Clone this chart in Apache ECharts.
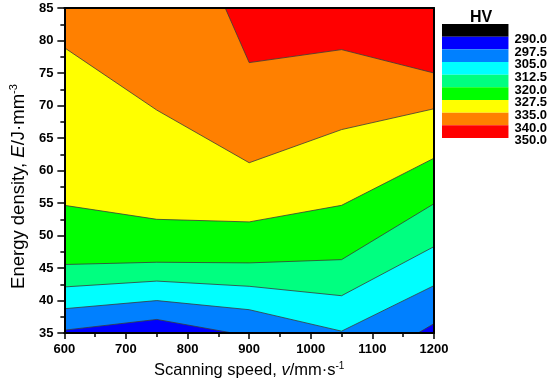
<!DOCTYPE html>
<html>
<head>
<meta charset="utf-8">
<script src="https://cdn.jsdelivr.net/npm/echarts@6/dist/echarts.min.js"></script>
<style>
html,body{margin:0;padding:0;background:#fff;}
#c{width:550px;height:384px;}
</style>
</head>
<body>
<div id="c"></div>
<script>
// Scanning speed columns (mm/s)
var speeds = [600, 750, 900, 1050, 1200];
// Contour boundary lines: energy density (J/mm^3) at each speed
var top85 = [85, 85, 85, 85, 85];
var b340 = [130, 109, 76.6, 78.6, 75.0];
var b335 = [78.9, 69.3, 61.2, 66.3, 69.5];
var b327 = [54.65, 52.5, 52.1, 54.65, 61.9];
var b320 = [45.55, 45.9, 45.8, 46.3, 54.9];
var b312 = [42.1, 43.0, 42.2, 40.75, 48.3];
var b305 = [38.75, 40.0, 38.6, 35.3, 42.3];
var b297 = [35.45, 37.1, 34.55, 28.1, 36.45];
// Colour-scale legend
var legendLevels = ['290.0', '297.5', '305.0', '312.5', '320.0', '327.5', '335.0', '340.0', '350.0'];
var legendColors = ['#000000', '#0000ff', '#0080ff', '#00ffff', '#00ff80', '#00ff00', '#ffff00', '#ff8000', '#ff0000'];
var xTicks = [600, 700, 800, 900, 1000, 1100, 1200];
var yTicks = [35, 40, 45, 50, 55, 60, 65, 70, 75, 80, 85];

var FONT = 'Liberation Sans, Arial, sans-serif';

function pts(arr) {
  return speeds.map(function (s, i) { return [s, arr[i]]; });
}

// layers drawn from top region down: each fills below its boundary
var layers = [
  { d: top85, fill: '#ff0000', line: false },
  { d: b340, fill: '#ff8000', line: true },
  { d: b335, fill: '#ffff00', line: true },
  { d: b327, fill: '#00ff00', line: true },
  { d: b320, fill: '#00ff80', line: true },
  { d: b312, fill: '#00ffff', line: true },
  { d: b305, fill: '#0080ff', line: true },
  { d: b297, fill: '#0000ff', line: true }
];

var series = layers.map(function (l) {
  return {
    type: 'line',
    xAxisIndex: 0, yAxisIndex: 0,
    data: pts(l.d),
    showSymbol: false,
    symbol: 'none',
    clip: true,
    silent: true,
    lineStyle: { color: '#3a3a3a', width: l.line ? 0.8 : 0, opacity: l.line ? 1 : 0 },
    areaStyle: { color: l.fill, opacity: 1, origin: 'start' },
    z: 2
  };
});

legendColors.forEach(function (c, i) {
  series.push({
    type: 'bar',
    xAxisIndex: 2, yAxisIndex: 2,
    stack: 'leg',
    data: [1],
    barWidth: '100%',
    itemStyle: { color: c },
    silent: true
  });
});

var axisLabelStyle = { color: '#000', fontSize: 13, fontWeight: 'bold', fontFamily: FONT };
function richName(sz) {
  return {
    n: { fontSize: sz, fontFamily: FONT, color: '#000', verticalAlign: 'bottom' },
    i: { fontSize: sz, fontFamily: FONT, fontStyle: 'italic', color: '#000', verticalAlign: 'bottom' },
    s: { fontSize: Math.round(sz * 0.62), fontFamily: FONT, color: '#000', verticalAlign: 'bottom', padding: [0, 0, Math.round(sz * 0.5), 0] }
  };
}

var option = {
  animation: false,
  backgroundColor: '#fff',
  grid: [
    { left: 58, right: 116, top: 8, bottom: 46 },
    { left: 442, top: 24, width: 70, height: 114 }
  ],
  title: {
    text: 'HV', left: 476, top: 5, textAlign: 'center',
    textStyle: { fontSize: 16, fontWeight: 'bold', fontFamily: FONT, color: '#000' }
  },
  xAxis: [
    {
      type: 'value', gridIndex: 0, min: xTicks[0], max: xTicks[xTicks.length - 1], interval: 100,
      position: 'bottom', z: 10,
      axisLine: { show: true, onZero: false, lineStyle: { color: '#000', width: 2 } },
      axisTick: { show: true, inside: false, length: 6, lineStyle: { color: '#000', width: 1.5 } },
      minorTick: { show: true, splitNumber: 2, length: 4, lineStyle: { color: '#000', width: 1.5 } },
      axisLabel: Object.assign({ margin: 10, formatter: function (v) { return String(v); } }, axisLabelStyle),
      splitLine: { show: false },
      name: '{n|Scanning speed, }{i|v}{n|/mm·s}{s|-1}',
      nameLocation: 'middle', nameGap: 24,
      nameTextStyle: { rich: richName(16.5) }
    },
    {
      type: 'value', gridIndex: 0, min: 600, max: 1200, position: 'top', z: 10,
      axisLine: { show: true, onZero: false, lineStyle: { color: '#000', width: 2 } },
      axisTick: { show: false }, axisLabel: { show: false }, splitLine: { show: false }
    },
    {
      type: 'category', gridIndex: 1, data: [''], show: false
    }
  ],
  yAxis: [
    {
      type: 'value', gridIndex: 0, min: yTicks[0], max: yTicks[yTicks.length - 1], interval: 5,
      position: 'left', z: 10,
      axisLine: { show: true, onZero: false, lineStyle: { color: '#000', width: 2 } },
      axisTick: { show: true, inside: false, length: 7, lineStyle: { color: '#000', width: 1.5 } },
      minorTick: { show: true, splitNumber: 2, length: 4, lineStyle: { color: '#000', width: 1.5 } },
      axisLabel: Object.assign({ margin: 11 }, axisLabelStyle),
      splitLine: { show: false },
      name: '{n|Energy density, }{i|E}{n|/J·mm}{s|-3}',
      nameLocation: 'middle', nameGap: 33, nameRotate: 90,
      nameTextStyle: { rich: richName(18.5), padding: [0, 32, 0, 0] }
    },
    {
      type: 'value', gridIndex: 0, min: 35, max: 85, position: 'right', z: 10,
      axisLine: { show: true, onZero: false, lineStyle: { color: '#000', width: 2 } },
      axisTick: { show: false }, axisLabel: { show: false }, splitLine: { show: false }
    },
    {
      type: 'value', gridIndex: 1, min: 0, max: legendColors.length, inverse: true,
      show: false
    },
    {
      type: 'category', gridIndex: 1, inverse: true, position: 'right', boundaryGap: false,
      data: [''].concat(legendLevels),
      axisLine: { show: false }, axisTick: { show: false }, splitLine: { show: false },
      axisLabel: Object.assign({
        interval: 0, margin: 6, verticalAlign: 'top', lineHeight: 5.4
      }, axisLabelStyle)
    }
  ],
  series: series
};

var chart = echarts.init(document.getElementById('c'), null, { renderer: 'canvas' });
chart.setOption(option);
</script>
</body>
</html>
